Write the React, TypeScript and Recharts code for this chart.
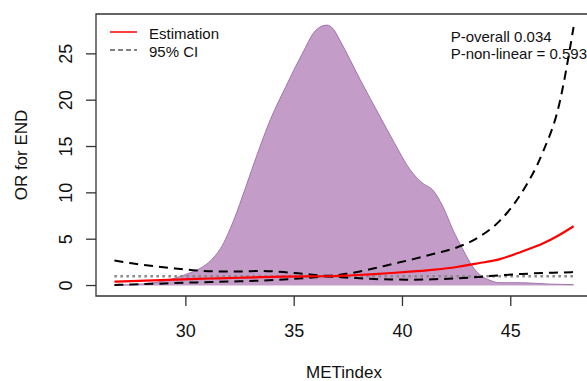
import React from "react";
import {
  ComposedChart,
  Area,
  Line,
  XAxis,
  YAxis,
  ReferenceArea,
  ReferenceLine,
  Label,
} from "recharts";

// density of METindex (scaled to the OR axis)
const densityX = [
  26.7, 27.5, 28.5, 29.5, 30.0, 30.7, 31.15, 31.6, 32.2, 32.76, 33.3, 33.9,
  34.6, 35.37, 35.98, 36.5, 36.8, 37.1, 38.05, 38.97, 39.6, 40.35, 40.95, 41.4,
  41.87, 42.33, 42.8, 43.25, 43.7, 44.0, 44.5, 45.5, 46.8, 47.9,
];
const densityY = [
  0.05, 0.1, 0.3, 0.8, 1.2, 1.9, 2.7, 4.0, 7.0, 10.6, 14.2, 17.9, 21.4, 25.0,
  27.5, 28.1, 27.7, 26.5, 22.2, 18.2, 15.5, 12.5, 11.0, 10.3, 8.5, 6.0, 3.85,
  2.0, 0.94, 0.6, 0.3, 0.3, 0.15, 0.1,
];

// spline fit
const metIndex = [
  26.7, 27.5, 28.5, 29.5, 30.5, 31.5, 32.5, 33.5, 34.5, 35.5, 36.5, 37.5, 38.5,
  39.5, 40.5, 41.5, 42.5, 43.5, 44.5, 45.5, 46.5, 47.2, 47.9,
];
const estimation = [
  0.42, 0.48, 0.56, 0.64, 0.72, 0.78, 0.84, 0.9, 0.95, 0.99, 1.0, 1.08, 1.2,
  1.35, 1.52, 1.72, 2.0, 2.4, 2.85, 3.65, 4.55, 5.4, 6.4,
];
const upperCI = [
  2.7, 2.4, 2.1, 1.85, 1.62, 1.52, 1.52, 1.58, 1.45, 1.25, 1.05, 1.3, 1.75, 2.3,
  2.85, 3.45, 4.1, 5.2, 7.0, 10.0, 14.5, 19.2, 27.9,
];
const lowerCI = [
  0.07, 0.12, 0.18, 0.27, 0.34, 0.4, 0.46, 0.54, 0.65, 0.8, 0.97, 0.85, 0.72,
  0.65, 0.63, 0.68, 0.78, 0.92, 1.1, 1.25, 1.35, 1.4, 1.45,
];

const xTicks = [30, 35, 40, 45];
const yTicks = [0, 5, 10, 15, 20, 25];
const xDomain: [number, number] = [25.85, 48.75];
const yDomain: [number, number] = [-1.13, 29.3];

const densityData = densityX.map((x, i) => ({ x, d: densityY[i] }));
const fitData = metIndex.map((x, i) => ({
  x,
  est: estimation[i],
  upper: upperCI[i],
  lower: lowerCI[i],
}));

const FONT = "'Liberation Sans', Arial, sans-serif";
const INK = "#111";

const XTick = ({ x, y, payload }: any) => (
  <text x={x} y={y + 29} textAnchor="middle" fontSize={18} fontFamily={FONT} fill={INK}>
    {payload.value}
  </text>
);

const YTick = ({ x, y, payload }: any) => (
  <text
    x={x - 12}
    y={y}
    textAnchor="middle"
    transform={`rotate(-90, ${x - 12}, ${y})`}
    fontSize={18}
    fontFamily={FONT}
    fill={INK}
  >
    {payload.value}
  </text>
);

export default function App() {
  return (
    <div
      style={{
        position: "fixed",
        left: 0,
        top: 0,
        width: 587,
        height: 381,
        overflow: "hidden",
        background: "#fff",
      }}
    >
      <ComposedChart
        width={600}
        height={381}
        margin={{ top: 14, right: 8, bottom: 0, left: 0 }}
      >
        <XAxis
          type="number"
          dataKey="x"
          domain={xDomain}
          allowDataOverflow
          ticks={xTicks}
          tick={<XTick />}
          tickSize={10}
          tickLine={{ stroke: "#333", strokeWidth: 1.3 }}
          axisLine={false}
          height={85}
        >
          <Label
            content={({ viewBox }: any) => (
              <text
                x={viewBox.x + viewBox.width / 2}
                y={viewBox.y + 82}
                textAnchor="middle"
                fontSize={17}
                fontFamily={FONT}
                fill={INK}
              >
                METindex
              </text>
            )}
          />
        </XAxis>
        <YAxis
          type="number"
          domain={yDomain}
          allowDataOverflow
          ticks={yTicks}
          tick={<YTick />}
          tickSize={10}
          tickLine={{ stroke: "#333", strokeWidth: 1.3 }}
          axisLine={false}
          width={96}
        >
          <Label
            content={({ viewBox }: any) => {
              const cx = viewBox.x + 27;
              const cy = viewBox.y + viewBox.height / 2;
              return (
                <text
                  x={cx}
                  y={cy}
                  textAnchor="middle"
                  transform={`rotate(-90, ${cx}, ${cy})`}
                  fontSize={17}
                  fontFamily={FONT}
                  fill={INK}
                >
                  OR for END
                </text>
              );
            }}
          />
        </YAxis>

        <Area
          data={densityData}
          dataKey="d"
          type="monotone"
          baseValue={0}
          fill="#c39dc8"
          fillOpacity={1}
          stroke="#a274ae"
          strokeWidth={1}
          isAnimationActive={false}
        />
        <ReferenceLine
          segment={[
            { x: metIndex[0], y: 1 },
            { x: metIndex[metIndex.length - 1], y: 1 },
          ]}
          stroke="#888"
          strokeWidth={2.5}
          strokeDasharray="2.5 3.5"
        />
        <Line
          data={fitData}
          dataKey="upper"
          type="monotone"
          stroke="#000"
          strokeWidth={2}
          strokeDasharray="9 6"
          dot={false}
          isAnimationActive={false}
        />
        <Line
          data={fitData}
          dataKey="lower"
          type="monotone"
          stroke="#000"
          strokeWidth={2}
          strokeDasharray="9 6"
          dot={false}
          isAnimationActive={false}
        />
        <Line
          data={fitData}
          dataKey="est"
          type="monotone"
          stroke="#ff0000"
          strokeWidth={2.2}
          dot={false}
          isAnimationActive={false}
        />
        <ReferenceArea
          x1={xDomain[0]}
          x2={xDomain[1]}
          y1={yDomain[0]}
          y2={yDomain[1]}
          fill="none"
          stroke="#333"
          strokeWidth={1.3}
        />
      </ComposedChart>

      <svg
        width={587}
        height={381}
        style={{ position: "absolute", left: 0, top: 0, pointerEvents: "none" }}
        fontFamily={FONT}
        fontSize={15}
        fill={INK}
      >
        <line x1={110} x2={137} y1={32} y2={32} stroke="#ff0000" strokeWidth={1.5} />
        <text x={149} y={39}>Estimation</text>
        <line x1={110} x2={137} y1={50} y2={50} stroke="#000" strokeWidth={1.2} strokeDasharray="5 3" />
        <text x={149} y={56.7}>95% CI</text>
        <text x={450.7} y={41.7}>P-overall 0.034</text>
        <text x={450.7} y={59.3}>P-non-linear = 0.593</text>
      </svg>
    </div>
  );
}
